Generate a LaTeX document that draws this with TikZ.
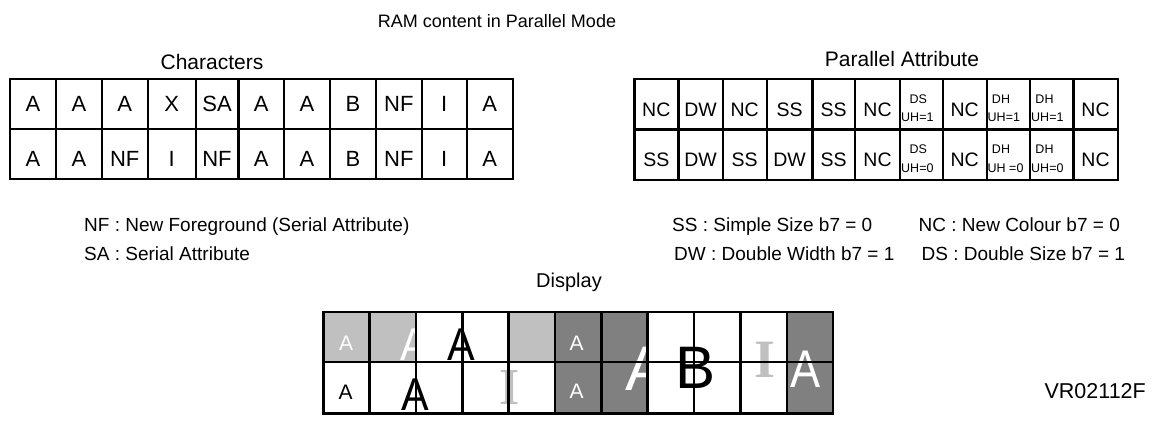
\documentclass[tikz,border=0pt]{standalone}
\usepackage{fontspec}
\setmainfont{Liberation Sans}
\newfontfamily\tmsfont{Liberation Serif}
\definecolor{lgray}{HTML}{C0C0C0}
\definecolor{dgray}{HTML}{808080}
\newcommand{\fs}[1]{\fontsize{#1}{#1}\selectfont}
\tikzset{
  grid/.style={line width=2.4pt, line cap=rect},
  txt/.style={inner sep=0pt, anchor=base},
  big/.style={txt, font=\fs{22}},
  mid/.style={txt, font=\fs{19.5}},
  sml/.style={txt, font=\fs{12.5}},
  lab/.style={txt, font=\fs{19}},
  head/.style={txt, font=\fs{21}},
  glyph/.style={inner sep=0pt, anchor=center},
}
\begin{document}
\begin{tikzpicture}[x=1pt,y=-1pt]
\useasboundingbox (0,0) rectangle (1161,421);
\fill[white] (0,0) rectangle (1161,421);

% titles
\node[txt, font=\fs{18}] (title) at (497,27) {RAM content in Parallel Mode};
\node[head] (chartitle) at (212,69) {Characters};
\node[head] (partitle) at (902,66) {Parallel Attribute};
\node[lab, font=\fs{20}] (disptitle) at (569,287) {Display};
\node[txt, font=\fs{21.5}, anchor=base east] (ref) at (1146,398) {VR02112F};

% ---------- Characters table ----------
\foreach \x in {10,56,101.7,147.7,195.7,238.3,284,330,376,421.7,466.7,512.7}
  \draw[grid] (\x,79) -- (\x,179);
\foreach \y in {79,129,179}
  \draw[grid] (10,\y) -- (512.7,\y);
\foreach \x/\a/\b [count=\i] in {33/A/A,78.85/A/A,124.7/A/NF,171.7/X/I,217/SA/NF,261.15/A/A,307/A/A,353/B/B,398.85/NF/NF,444.2/I/I,489.7/A/A}{
  \node[big] (ca\i) at (\x,111.7) {\a};
  \node[big] (cb\i) at (\x,166.7) {\b};
}

% ---------- Parallel Attribute table ----------
\foreach \x in {634.3,678.3,722.7,766.7,812.3,855,900,942.7,986.7,1030,1073.3,1117.7}
  \draw[grid] (\x,79) -- (\x,180);
\foreach \y in {79,129.5,180}
  \draw[grid] (634.3,\y) -- (1117.7,\y);
\foreach \x/\a/\b [count=\i] in {656.3/NC/SS,700.5/DW/DW,744.7/NC/SS,789.5/SS/DW,833.65/SS/SS,877.5/NC/NC,964.7/NC/NC,1095.5/NC/NC}{
  \node[mid] (pa\i) at (\x,116.7) {\a};
  \node[mid] (pb\i) at (\x,166.7) {\b};
}
\node[sml, anchor=base] (ds1) at (918.3,103) {DS};
\node[sml, anchor=base west] (uh1) at (901,121.7) {UH=1};
\node[sml, anchor=base] (ds2) at (918.3,153.5) {DS};
\node[sml, anchor=base west] (uh2) at (901,172) {UH=0};
\node[sml, anchor=base] (dh1) at (1001,103) {DH};
\node[sml, anchor=base west] (uh3) at (987.5,121.7) {UH=1};
\node[sml, anchor=base] (dh2) at (1001,153.5) {DH};
\node[sml, anchor=base west] (uh4) at (987.5,172) {UH =0};
\node[sml, anchor=base] (dh3) at (1044.5,103) {DH};
\node[sml, anchor=base west] (uh5) at (1031,121.7) {UH=1};
\node[sml, anchor=base] (dh4) at (1044.5,153.5) {DH};
\node[sml, anchor=base west] (uh6) at (1031,172) {UH=0};

% ---------- Legend ----------
\node[lab, anchor=base west] (lnf) at (84,231.5) {NF : New Foreground (Serial Attribute)};
\node[lab, anchor=base west] (lsa) at (84,260.5) {SA : Serial Attribute};
\node[lab, anchor=base west] (lss) at (672,231.5) {SS : Simple Size b7 = 0};
\node[lab, anchor=base west] (lnc) at (918.5,231.5) {NC : New Colour b7 = 0};
\node[lab, anchor=base west] (ldw) at (674,260.5) {DW : Double Width b7 = 1};
\node[lab, anchor=base west] (lds) at (921.5,260.5) {DS : Double Size b7 = 1};

% ---------- Display ----------
\def\dw{46.34}
\def\dx{323.3}
% fills
\foreach \c in {1,2,5}
  \fill[lgray] ({\dx+(\c-1)*\dw},312) rectangle ({\dx+\c*\dw},362);
\foreach \c in {6,7,11}
  \fill[dgray] ({\dx+(\c-1)*\dw},312) rectangle ({\dx+\c*\dw},413.5);
% glyphs
\node[glyph, text=white, font=\fs{21}] (d1) at (346,343) {A};
\node[glyph, text=black, font=\fs{21}] (d2) at (345.5,392) {A};
\node[glyph, text=white, font=\fs{46}, xscale=0.9] (d3) at (414,345) {A};
\node[glyph, text=black, font=\fs{46}, xscale=0.9] (d4) at (461.7,345) {A};
\node[glyph, text=black, font=\fs{46}, xscale=0.9] (d5) at (415,394.2) {A};
\node[glyph, text=lgray, font={\tmsfont\bfseries\fs{52}}] (d6) at (510,387.5) {I};
\node[glyph, text=white, font=\fs{21}] (d7) at (576.7,343.3) {A};
\node[glyph, text=white, font=\fs{21}] (d8) at (576.7,391.7) {A};
\node[glyph, text=white, font=\fs{63}] (d9) at (647,369.2) {A};
\node[glyph, text=black, font=\fs{60}] (d10) at (695,368.3) {B};
\node[glyph, text=lgray, font={\tmsfont\bfseries\fs{54}}] (d11) at (765,360) {I};
\node[glyph, text=white, font=\fs{53}, xscale=0.85] (d12) at (806,369.2) {A};
% grid
\foreach \c in {0,...,11}
  \draw[grid] ({\dx+\c*\dw},312) -- ({\dx+\c*\dw},413.5);
\foreach \y in {312,362,413.5}
  \draw[grid] (\dx,\y) -- ({\dx+11*\dw},\y);
\end{tikzpicture}
\end{document}
